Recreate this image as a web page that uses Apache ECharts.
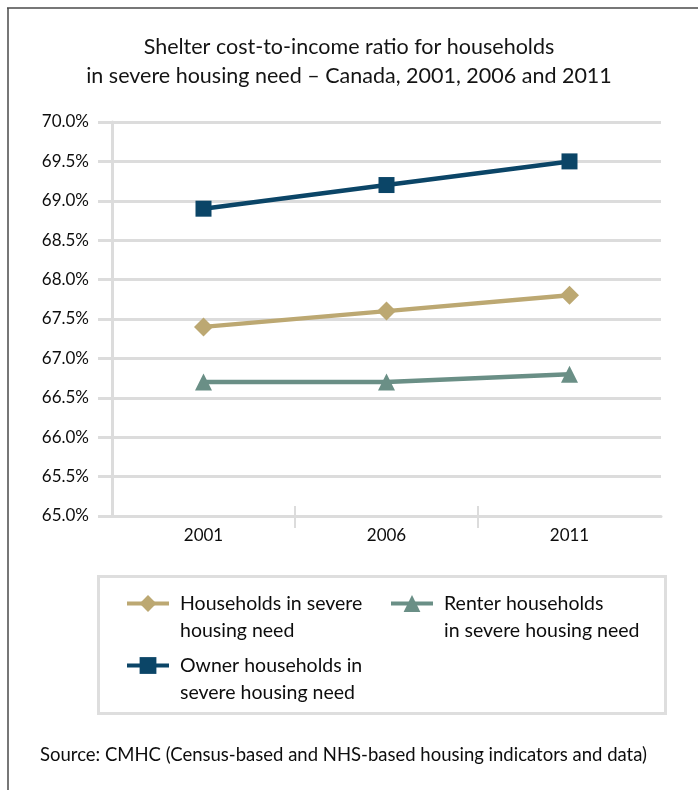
<!DOCTYPE html>
<html>
<head>
<meta charset="utf-8">
<script src="https://cdn.jsdelivr.net/npm/echarts@6/dist/echarts.min.js"></script>
<style>
  html, body { margin: 0; padding: 0; background: #fff; }
  #chart { width: 698px; height: 790px; }
</style>
</head>
<body>
<div id="chart"></div>
<script>
const years = ['2001', '2006', '2011'];
const allHouseholds = [67.4, 67.6, 67.8];
const renterHouseholds = [66.7, 66.7, 66.8];
const ownerHouseholds = [68.9, 69.2, 69.5];
const seriesNames = [
    'Households in severe\nhousing need',
    'Renter households\nin severe housing need',
    'Owner households in\nsevere housing need'
];

const font = 'Lato';
const gridColor = '#dcdcdc';

document.addEventListener('DOMContentLoaded', () => {
    const myChart = echarts.init(document.getElementById('chart'));

    // blank first line keeps the icon level with the first text line
    const legendBase = {
        itemWidth: 42,
        itemHeight: 21,
        selectedMode: false,
        lineStyle: { width: 4 },
        formatter: name => ' \n' + name,
        textStyle: {
            fontFamily: font,
            fontSize: 19.5,
            color: '#0d0d0d',
            lineHeight: 27,
            padding: [0, 0, 0, 6]
        }
    };

    const option = {
        animation: false,
        backgroundColor: '#fff',
        title: {
            text: 'Shelter cost-to-income ratio for households\nin severe housing need – Canada, 2001, 2006 and 2011',
            left: 'center',
            top: 28,
            textStyle: { fontFamily: font, fontSize: 21.5, fontWeight: 'normal', color: '#141414', lineHeight: 29 }
        },
        grid: { left: 112, right: 37, top: 122, bottom: 274 },
        xAxis: [
            {
                type: 'category',
                data: years,
                boundaryGap: true,
                axisLine: { lineStyle: { color: gridColor, width: 3 } },
                axisTick: { show: false },
                axisLabel: { fontFamily: font, fontSize: 17, color: '#0d0d0d', margin: 11 }
            },
            {
                // tick marks between the years, crossing the base line
                type: 'value',
                min: 0,
                max: 3,
                position: 'bottom',
                offset: -10,
                axisLine: { show: false },
                axisLabel: { show: false },
                splitLine: { show: false },
                axisTick: { show: true, customValues: [1, 2], length: 22, lineStyle: { color: gridColor, width: 2 } }
            }
        ],
        yAxis: {
            type: 'value',
            min: 65,
            max: 70,
            interval: 0.5,
            axisLine: { show: true, lineStyle: { color: gridColor, width: 3 } },
            axisTick: { show: true, length: 14, lineStyle: { color: gridColor, width: 3 } },
            splitLine: { lineStyle: { color: gridColor, width: 3 } },
            axisLabel: {
                fontFamily: font, fontSize: 17, color: '#0d0d0d', margin: 23,
                formatter: v => v.toFixed(1) + '%'
            }
        },
        legend: [
            Object.assign({ data: [seriesNames[0]], left: 120, top: 558 }, legendBase),
            Object.assign({ data: [seriesNames[1]], left: 384, top: 558 }, legendBase),
            Object.assign({ data: [seriesNames[2]], left: 120, top: 620 }, legendBase)
        ],
        graphic: [
            {
                type: 'rect', left: 97, top: 575, z: -1,
                shape: { width: 567, height: 137 },
                style: { fill: '#fff', stroke: '#dedede', lineWidth: 3 }
            },
            {
                type: 'line',
                shape: { x1: 7, y1: 8, x2: 698, y2: 8 },
                style: { stroke: '#4a4a4a', lineWidth: 1.5 }
            },
            {
                type: 'line',
                shape: { x1: 8, y1: 8, x2: 8, y2: 790 },
                style: { stroke: '#4a4a4a', lineWidth: 1.5 }
            },
            {
                type: 'text', left: 40, top: 746,
                style: {
                    text: 'Source: CMHC (Census-based and NHS-based housing indicators and data)',
                    fontFamily: font, fontSize: 18.5, fill: '#0d0d0d'
                }
            }
        ],
        series: [
            {
                name: seriesNames[0], type: 'line', data: allHouseholds,
                symbol: 'diamond', symbolSize: 19,
                itemStyle: { color: '#bca872' },
                lineStyle: { color: '#bca872', width: 4.5 }
            },
            {
                name: seriesNames[1], type: 'line', data: renterHouseholds,
                symbol: 'triangle', symbolSize: 17,
                itemStyle: { color: '#6a8f86' },
                lineStyle: { color: '#6a8f86', width: 4.5 }
            },
            {
                name: seriesNames[2], type: 'line', data: ownerHouseholds,
                symbol: 'rect', symbolSize: 16,
                itemStyle: { color: '#0b4567' },
                lineStyle: { color: '#0b4567', width: 4.5 }
            }
        ]
    };
    myChart.setOption(option);
    window.addEventListener('resize', () => myChart.resize());
});
</script>
</body>
</html>
